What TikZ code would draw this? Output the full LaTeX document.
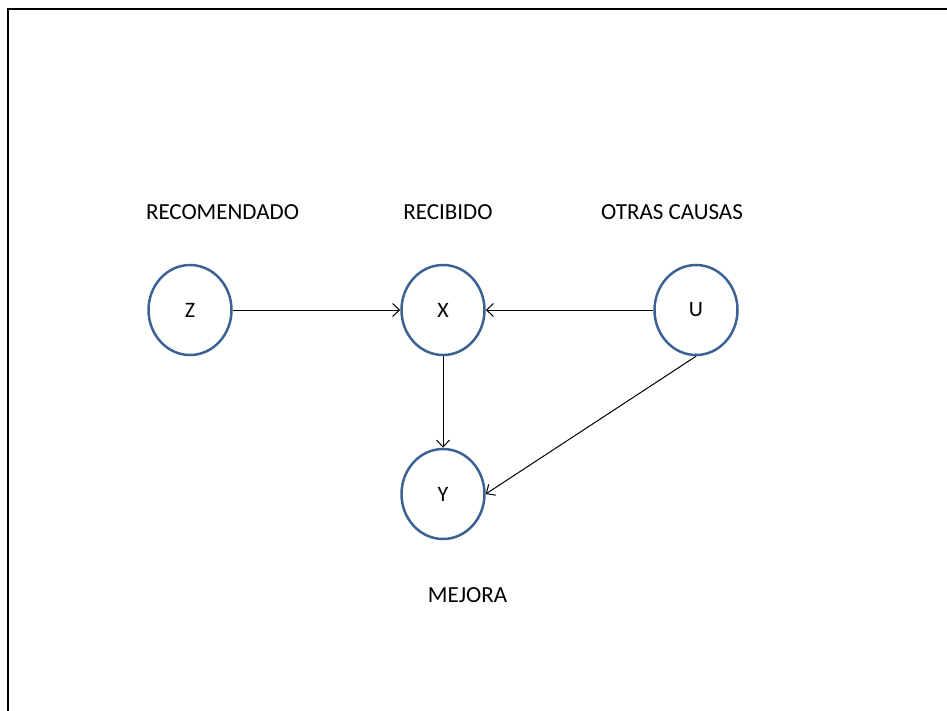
\documentclass[tikz,border=0pt]{standalone}
\usepackage{fontspec}
\setmainfont{Carlito}
\usetikzlibrary{shapes.geometric,arrows.meta}
\definecolor{ringblue}{RGB}{60,98,148}
\tikzset{
  varnode/.style={ellipse, draw=ringblue, line width=2.5pt, minimum width=83pt, minimum height=90pt, inner sep=0pt, font=\fontsize{22}{26}\selectfont},
  lbl/.style={inner sep=0pt, font=\fontsize{23}{28}\selectfont},
  arr/.style={draw=black, line width=1pt, -{Straight Barb[length=7pt,width=13pt]}}
}
\begin{document}
\begin{tikzpicture}[x=1pt,y=-1pt]
\useasboundingbox (0,0) rectangle (947,711);
% frame
\coordinate (fl) at (8,711);
\coordinate (fc) at (8,9);
\coordinate (fr) at (947,9);
\draw[line width=1.6pt, line cap=rect] (fl) -- (fc) -- (fr);
% nodes
\node[varnode] (Z) at (190,310) {Z};
\node[varnode] (X) at (443,310) {X};
\node[varnode] (U) at (696,310) {U};
\node[varnode] (Y) at (443,494) {Y};
% labels
\node[lbl] (lz) at (222.5,212.5) {RECOMENDADO};
\node[lbl] (lx) at (448,212.5) {RECIBIDO};
\node[lbl] (lu) at (672,212.5) {OTRAS CAUSAS};
\node[lbl] (ly) at (467.5,595.5) {MEJORA};
% connectors
\draw[arr] (Z.east) -- (X.west);
\draw[arr] (U.west) -- (X.east);
\draw[arr] (X.south) -- (Y.north);
\draw[arr] (U.south) -- (Y.east);
\end{tikzpicture}
\end{document}
